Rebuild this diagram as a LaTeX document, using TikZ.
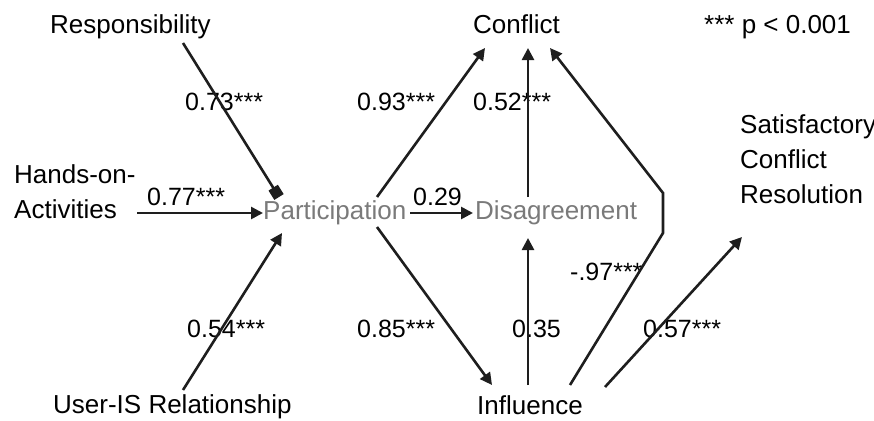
\documentclass[tikz,border=0pt]{standalone}
\usepackage{fontspec}
\setmainfont{Liberation Sans}
\usetikzlibrary{arrows.meta,calc}

\definecolor{inkline}{HTML}{1E1E1E}
\definecolor{latent}{HTML}{7A7A7A}

\tikzset{
  var/.style={inner sep=0pt, anchor=base west, align=left,
    font=\fontsize{26}{35}\selectfont, text=black},
  latentvar/.style={var, text=latent},
  coef/.style={inner sep=0pt, anchor=base west,
    font=\fontsize{25}{30}\selectfont, text=black},
  path/.style={draw=inkline, line width=2.6pt,
    -{Triangle[length=12pt,width=12pt]}},
  sqpath/.style={draw=inkline, line width=2.6pt,
    -{Square[length=11pt,width=11pt]}},
}

\begin{document}
\begin{tikzpicture}[x=1pt,y=-1pt]
  \useasboundingbox (0,0) rectangle (874,420);
  \clip (0,0) rectangle (874,420);

  % constructs
  \node[var] (resp) at (50,33.5) {Responsibility};
  \node[var] (confl) at (473,33.5) {Conflict};
  \node[var] (note) at (704,33.5) {*** p < 0.001};
  \node[var] (hands) at (14,218) {Hands-on-\\Activities};
  \node[latentvar] (part) at (263,219) {Participation};
  \node[latentvar] (disag) at (475,219) {Disagreement};
  \node[var] (satis) at (740,203) {Satisfactory\\Conflict\\Resolution};
  \node[var] (user) at (53,413) {User-IS Relationship};
  \node[var] (infl) at (477,414) {Influence};

  % path coefficients
  \node[coef] (c73) at (185,110) {0.73***};
  \node[coef] (c93) at (357,110) {0.93***};
  \node[coef] (c52) at (473,110) {0.52***};
  \node[coef] (c77) at (147,205) {0.77***};
  \node[coef] (c29) at (413,205) {0.29};
  \node[coef] (c97) at (570,280) {-.97***};
  \node[coef] (c54) at (187,337) {0.54***};
  \node[coef] (c85) at (357,337) {0.85***};
  \node[coef] (c35) at (512,337) {0.35};
  \node[coef] (c57) at (643,337) {0.57***};

  % bends of the Influence -> Conflict path
  \coordinate (bendlow) at (663,233);
  \coordinate (bendhigh) at (663,193);

  % structural paths
  \draw[sqpath] ($(resp.base west)+(133,9.5)$) -- ($(part.base west)+(16,-22)$);
  \draw[path] ($(hands.base west)+(123,-5)$) -- ($(part.base west)+(0,-6)$);
  \draw[path] ($(user.base west)+(130,-23)$) -- ($(part.base west)+(19,14)$);
  \draw[path] ($(part.base west)+(114,-22)$) -- ($(confl.base west)+(12,14.5)$);
  \draw[path] ($(part.base west)+(147,-6)$) -- ($(disag.base west)+(-2,-6)$);
  \draw[path] ($(part.base west)+(114,8)$) -- ($(infl.base west)+(15,-29)$);
  \draw[path] ($(disag.base west)+(53,-22)$) -- ($(confl.base west)+(55,14.5)$);
  \draw[path] ($(infl.base west)+(51,-29)$) -- ($(disag.base west)+(53,19)$);
  \draw[path] ($(infl.base west)+(93,-29)$) -- (bendlow) -- (bendhigh)
    -- ($(confl.base west)+(77,14.5)$);
  \draw[path] ($(infl.base west)+(128,-27)$) -- ($(satis.base west)+(2,34)$);
\end{tikzpicture}
\end{document}
